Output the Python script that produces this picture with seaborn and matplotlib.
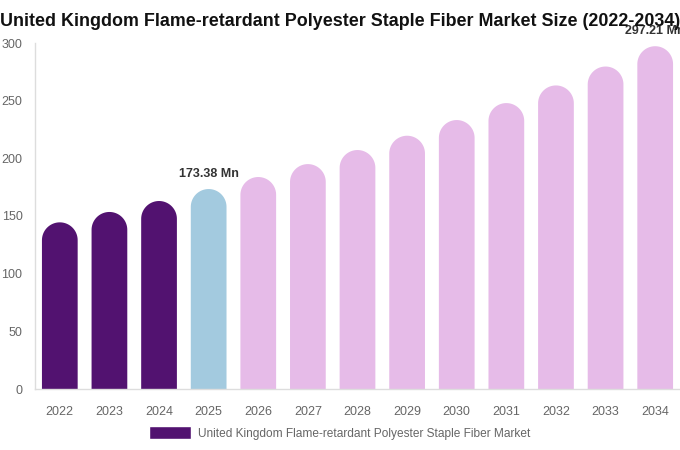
import numpy as np
import pandas as pd
import matplotlib
matplotlib.use("Agg")
import matplotlib.pyplot as plt
from matplotlib.patches import Polygon, Patch
import seaborn as sns

# Datos
years = ["2022", "2023", "2024", "2025", "2026", "2027", "2028",
         "2029", "2030", "2031", "2032", "2033", "2034"]
values = [144.5, 153.5, 163.0, 173.38, 183.8, 195.0, 207.2,
          219.6, 233.2, 247.9, 263.2, 279.6, 297.21]
bar_colors = ["#521270", "#521270", "#521270", "#A3CADF"] + ["#E6BBE8"] * 9
labels = {"2025": "173.38 Mn", "2034": "297.21 Mn"}
legend_label = "United Kingdom Flame-retardant Polyester Staple Fiber Market"
title = "United Kingdom Flame-retardant Polyester Staple Fiber Market Size (2022-2034)"

df = pd.DataFrame({"year": years, "value": values})

sns.set_style("white")
plt.rcParams["font.family"] = ["Liberation Sans", "DejaVu Sans"]

fig = plt.figure(figsize=(6.8, 4.5), dpi=100)
ax = fig.add_axes([35 / 680, 61 / 450, 645 / 680, 346 / 450])

sns.barplot(data=df, x="year", y="value", hue="year", palette=bar_colors,
            legend=False, width=0.72, ax=ax, saturation=1)
ax.set_ylim(0, 300)
ax.set_xlim(-0.5, len(years) - 0.5)

# barras con la parte superior redondeada (un solo polígono por barra)
px_per_unit = 346 / 300
px_per_x = 645 / len(years)
t = np.linspace(0, np.pi, 60)
for p, c in zip(list(ax.patches), bar_colors):
    x, w, h = p.get_x(), p.get_width(), p.get_height()
    p.set_visible(False)
    rh = (w * px_per_x / 2) / px_per_unit
    cx, cy = x + w / 2, h - rh
    arc = np.column_stack([cx + (w / 2) * np.cos(t), cy + rh * np.sin(t)])
    pts = np.vstack([[[x + w, 0]], arc, [[x, 0]]])
    ax.add_patch(Polygon(pts, closed=True, facecolor=c, edgecolor="none",
                         linewidth=0))

for i, (y, v) in enumerate(zip(years, values)):
    if y in labels:
        ax.text(i, v + 8, labels[y], ha="center", va="bottom", fontsize=9,
                fontweight="bold", color="#333333", clip_on=False)

ax.set_yticks([0, 50, 100, 150, 200, 250, 300])
ax.tick_params(axis="both", colors="#666666", labelsize=9, length=0)
ax.tick_params(axis="x", pad=12)
ax.tick_params(axis="y", pad=9)
ax.set_xlabel("")
ax.set_ylabel("")
for s in ["top", "right"]:
    ax.spines[s].set_visible(False)
for s in ["left", "bottom"]:
    ax.spines[s].set_color("#dddddd")
    ax.spines[s].set_linewidth(1)

fig.text(0.0, 1 - 21 / 450, title, ha="left", va="center", fontsize=12.9,
         fontweight="bold", color="#111111")

fig.legend(handles=[Patch(facecolor="#521270", label=legend_label)],
           loc="center", bbox_to_anchor=(340 / 680, 1 - 433 / 450),
           frameon=False, fontsize=8.6, handlelength=3.5, handleheight=1.3,
           handletextpad=0.6, labelcolor="#666666")

plt.savefig("out.png", dpi=100)
